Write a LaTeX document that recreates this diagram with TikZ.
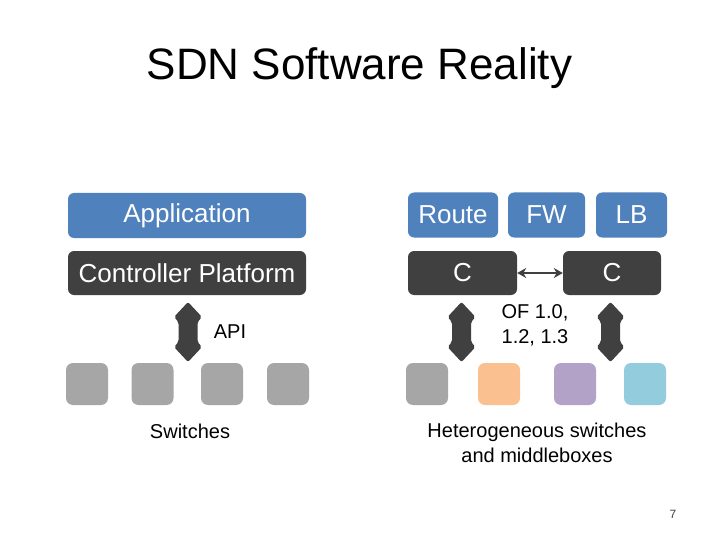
\documentclass[tikz,border=0pt]{standalone}
\usepackage{fontspec}
\setmainfont{Liberation Sans}
\usetikzlibrary{arrows.meta}
\definecolor{appblue}{HTML}{4F81BD}
\definecolor{ctrldark}{HTML}{404040}
\definecolor{swgray}{HTML}{A6A6A6}
\definecolor{sworange}{HTML}{FAC090}
\definecolor{swpurple}{HTML}{B3A2C7}
\definecolor{swblue}{HTML}{93CDDD}
\tikzset{
  box/.style={rounded corners=6pt, inner sep=0pt, text=white, font=\fontsize{26}{30}\selectfont},
  appbox/.style={box, fill=appblue},
  ctrlbox/.style={box, fill=ctrldark},
  swbox/.style={rounded corners=7pt, minimum width=42pt, minimum height=42pt, inner sep=0pt},
  lbl/.style={font=\fontsize{20}{25}\selectfont, align=center, text=black},
}
\newcommand{\fatarrow}[3]{% x, ytop, ybot
  \fill[ctrldark, rounded corners=2pt]
    (#1,#2) -- (#1+14,#2+15) -- (#1+9.5,#2+20) -- (#1+9.5,#3-20) -- (#1+14,#3-15)
    -- (#1,#3) -- (#1-14,#3-15) -- (#1-9.5,#3-20) -- (#1-9.5,#2+20) -- (#1-14,#2+15) -- cycle;
}
\begin{document}
\begin{tikzpicture}[x=1pt,y=-1pt]
\useasboundingbox (0,0) rectangle (720,540);
\fill[white] (0,0) rectangle (720,540);
\node[font=\fontsize{44}{50}\selectfont] (title) at (359.5,68) {SDN Software Reality};

% left side
\node[appbox, minimum width=238pt, minimum height=45pt] (app) at (187,215.5) {Application};
\node[ctrlbox, minimum width=238pt, minimum height=44pt] (ctrl) at (187,273) {Controller Platform};
\fatarrow{188}{302}{362}
\node[lbl] (api) at (230,332) {API};
\foreach \x/\n in {87/s1,152.5/s2,222/s3,288/s4}
  \node[swbox, fill=swgray] (\n) at (\x,384) {};
\node[lbl] (switches) at (190,431) {Switches};

% right side
\node[appbox, minimum width=90pt, minimum height=45pt] (route) at (453,215) {Route};
\node[appbox, minimum width=77pt, minimum height=45pt] (fw) at (546.5,215) {FW};
\node[appbox, minimum width=71pt, minimum height=45pt] (lb) at (631.5,215) {LB};
\node[ctrlbox, minimum width=109pt, minimum height=44pt] (c1) at (462.5,273) {C};
\node[ctrlbox, minimum width=98pt, minimum height=44pt] (c2) at (612,273) {C};
\draw[ctrldark, line width=2.5pt, {Stealth[length=9pt,width=10pt]}-{Stealth[length=9pt,width=10pt]}] (c1) -- (c2);
\fatarrow{461.5}{302}{362}
\fatarrow{610.5}{302}{362}
\node[lbl] (of) at (535,325) {OF 1.0,\\1.2, 1.3};
\node[swbox, fill=swgray] (h1) at (427,384) {};
\node[swbox, fill=sworange] (h2) at (499,384) {};
\node[swbox, fill=swpurple] (h3) at (575,384) {};
\node[swbox, fill=swblue] (h4) at (645,384) {};
\node[lbl] (hetero) at (537,443) {Heterogeneous switches\\and middleboxes};
\node[font=\fontsize{12}{14}\selectfont, text=ctrldark] (pg) at (673,514) {7};
\end{tikzpicture}
\end{document}
